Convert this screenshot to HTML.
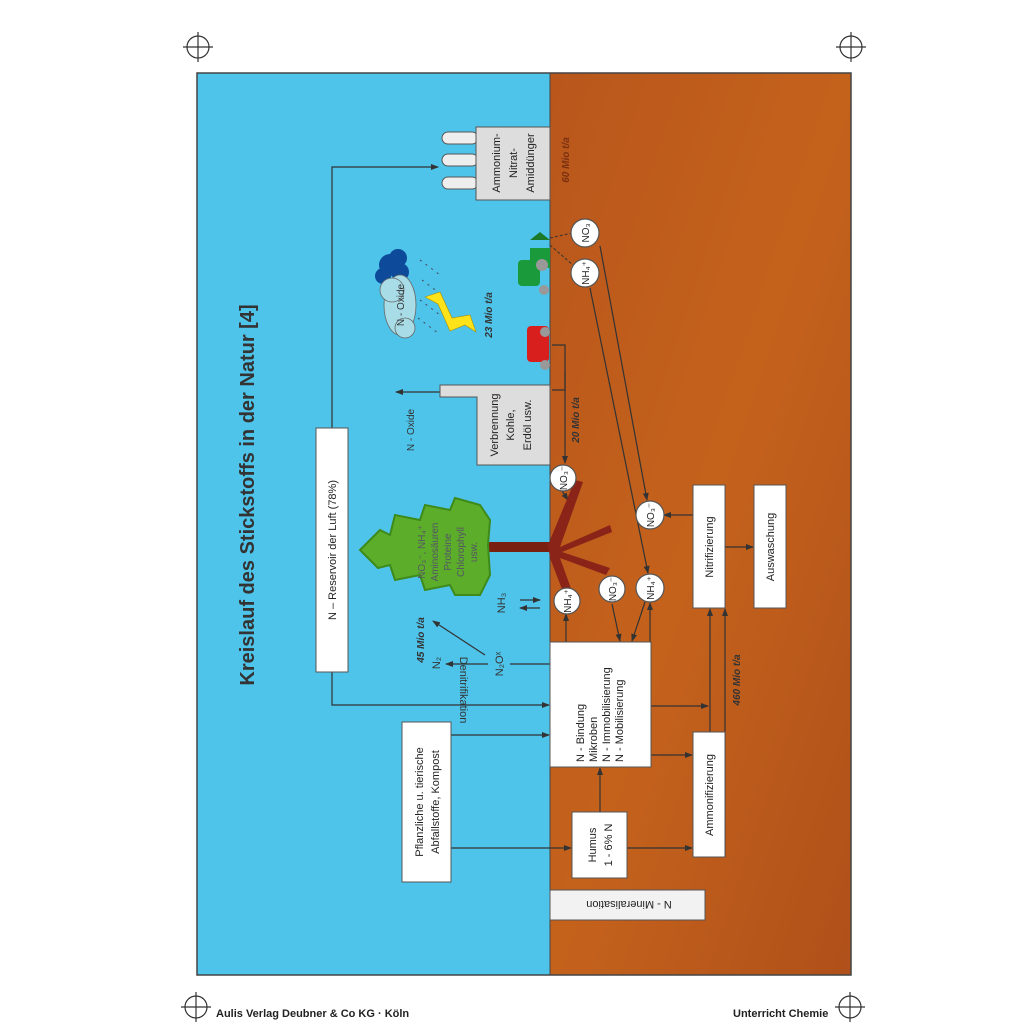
<!DOCTYPE html>
<html><head><meta charset="utf-8"><style>
html,body{margin:0;padding:0;background:#fff}
svg{display:block}
text{font-family:"Liberation Sans",sans-serif}
</style></head><body>
<svg width="1024" height="1024" viewBox="0 0 1024 1024" xmlns="http://www.w3.org/2000/svg">
<defs>
<marker id="a" markerWidth="8" markerHeight="8" refX="7" refY="4" orient="auto" markerUnits="userSpaceOnUse"><path d="M0,1 L8,4 L0,7 z" fill="#333"/></marker>
<linearGradient id="br" x1="0" y1="0" x2="1" y2="1"><stop offset="0" stop-color="#b9561c"/><stop offset="0.5" stop-color="#c4621c"/><stop offset="1" stop-color="#b0501a"/></linearGradient>
</defs>
<rect width="1024" height="1024" fill="#fff"/>
<!-- crosshairs -->
<g stroke="#333" fill="none" stroke-width="1.2">
<circle cx="198" cy="47" r="11"/><line x1="183" y1="47" x2="213" y2="47"/><line x1="198" y1="32" x2="198" y2="62"/>
<circle cx="851" cy="47" r="11"/><line x1="836" y1="47" x2="866" y2="47"/><line x1="851" y1="32" x2="851" y2="62"/>
<circle cx="196" cy="1007" r="11"/><line x1="181" y1="1007" x2="211" y2="1007"/><line x1="196" y1="992" x2="196" y2="1022"/>
<circle cx="850" cy="1007" r="11"/><line x1="835" y1="1007" x2="865" y2="1007"/><line x1="850" y1="992" x2="850" y2="1022"/>
</g>
<text x="216" y="1017" font-size="11" font-weight="bold" fill="#222">Aulis Verlag Deubner &amp; Co KG · Köln</text>
<text x="733" y="1017" font-size="11" font-weight="bold" fill="#222">Unterricht Chemie</text>
<!-- panels -->
<rect x="197" y="73" width="353" height="902" fill="#4ec4ea"/>
<rect x="550" y="73" width="301" height="902" fill="url(#br)"/>
<rect x="197" y="73" width="654" height="902" fill="none" stroke="#444" stroke-width="1.5"/>
<line x1="550" y1="73" x2="550" y2="975" stroke="#444" stroke-width="1"/>
<!-- title -->
<text transform="translate(254,495) rotate(-90)" font-size="20" font-weight="bold" fill="#333" text-anchor="middle">Kreislauf des Stickstoffs in der Natur [4]</text>

<g stroke="#333" stroke-width="1.2" fill="none">
<!-- reservoir lines -->
<polyline points="332,428 332,167 438,167" marker-end="url(#a)"/>
<polyline points="332,672 332,705 549,705" marker-end="url(#a)"/>
<!-- pflanzliche -->
<line x1="451" y1="735" x2="549" y2="735" marker-end="url(#a)"/>
<line x1="451" y1="848" x2="571" y2="848" marker-end="url(#a)"/>
<!-- humus -->
<line x1="600" y1="812" x2="600" y2="768" marker-end="url(#a)"/>
<line x1="627" y1="848" x2="692" y2="848" marker-end="url(#a)"/>
<!-- big box right -->
<line x1="651" y1="706" x2="708" y2="706" marker-end="url(#a)"/>
<line x1="651" y1="755" x2="692" y2="755" marker-end="url(#a)"/>
<line x1="710" y1="732" x2="710" y2="609" marker-end="url(#a)"/>
<line x1="725" y1="857" x2="725" y2="609" marker-end="url(#a)"/>
<!-- nitrif -->
<line x1="693" y1="515" x2="664" y2="515" marker-end="url(#a)"/>
<line x1="725" y1="547" x2="753" y2="547" marker-end="url(#a)"/>
<!-- circles to big box -->
<line x1="566" y1="642" x2="566" y2="614" marker-end="url(#a)"/>
<line x1="612" y1="604" x2="620" y2="641" marker-end="url(#a)"/>
<line x1="645" y1="602" x2="632" y2="641" marker-end="url(#a)"/>
<line x1="650" y1="642" x2="650" y2="603" marker-end="url(#a)"/>
<line x1="566" y1="591" x2="566" y2="578" />
<!-- NO3 top -> NO3 nitrif -->
<line x1="600" y1="246" x2="647" y2="500" marker-end="url(#a)"/>
<line x1="590" y1="288" x2="648" y2="573" marker-end="url(#a)"/>
<!-- 20 Mio -->
<polyline points="552,345 565,345 565,390 552,390"/>
<line x1="565" y1="370" x2="565" y2="463" marker-end="url(#a)"/>
<line x1="562" y1="491" x2="568" y2="500" marker-end="url(#a)"/>
<line x1="476" y1="392" x2="396" y2="392" marker-end="url(#a)"/>
<!-- denitrifikation -->
<line x1="550" y1="664" x2="510" y2="664"/>
<line x1="488" y1="664" x2="446" y2="664" marker-end="url(#a)"/>
<line x1="485" y1="655" x2="433" y2="621" marker-end="url(#a)"/>
<!-- NH3 -->
<line x1="520" y1="600" x2="540" y2="600" marker-end="url(#a)"/>
<line x1="540" y1="608" x2="520" y2="608" marker-end="url(#a)"/>
</g>
<g stroke="#333" stroke-width="1" stroke-dasharray="3,2" fill="none">
<line x1="550" y1="238" x2="572" y2="233"/><line x1="550" y1="245" x2="574" y2="266"/>
</g>

<!-- factory -->
<g fill="#eee" stroke="#555" stroke-width="1">
<rect x="442" y="132" width="36" height="12" rx="6"/>
<rect x="442" y="154" width="36" height="12" rx="6"/>
<rect x="442" y="177" width="36" height="12" rx="6"/>
</g>
<rect x="476" y="127" width="74" height="73" fill="#ddd" stroke="#555"/>
<text transform="translate(500,163) rotate(-90)" font-size="11" fill="#222" text-anchor="middle">Ammonium-</text>
<text transform="translate(517,163) rotate(-90)" font-size="11" fill="#222" text-anchor="middle">Nitrat-</text>
<text transform="translate(534,163) rotate(-90)" font-size="11" fill="#222" text-anchor="middle">Amiddünger</text>
<text transform="translate(569,160) rotate(-90)" font-size="10" font-weight="bold" font-style="italic" fill="#7a3010" text-anchor="middle">60 Mio t/a</text>

<!-- verbrennung -->
<path d="M440,385 L550,385 L550,465 L477,465 L477,397 L440,397 Z" fill="#ddd" stroke="#555"/>
<text transform="translate(498,425) rotate(-90)" font-size="11" fill="#222" text-anchor="middle">Verbrennung</text>
<text transform="translate(514,425) rotate(-90)" font-size="11" fill="#222" text-anchor="middle">Kohle,</text>
<text transform="translate(531,425) rotate(-90)" font-size="11" fill="#222" text-anchor="middle">Erdöl usw.</text>
<text transform="translate(414,430) rotate(-90)" font-size="10" fill="#333" text-anchor="middle">N - Oxide</text>
<text transform="translate(579,420) rotate(-90)" font-size="10" font-weight="bold" font-style="italic" fill="#333" text-anchor="middle">20 Mio t/a</text>

<!-- cloud -->
<g fill="#0d4a9a"><circle cx="390" cy="265" r="11"/><circle cx="398" cy="258" r="9"/><circle cx="383" cy="276" r="8"/><circle cx="400" cy="272" r="9"/></g>
<g fill="#a8dde8" stroke="#666" stroke-width="0.8"><ellipse cx="400" cy="305" rx="16" ry="30"/><circle cx="392" cy="290" r="12"/><circle cx="405" cy="328" r="10"/></g>
<text transform="translate(404,305) rotate(-90)" font-size="10" fill="#333" text-anchor="middle">N - Oxide</text>
<g stroke="#445" stroke-width="1" stroke-dasharray="2,5">
<line x1="420" y1="260" x2="440" y2="275"/><line x1="422" y1="280" x2="442" y2="295"/><line x1="420" y1="300" x2="440" y2="315"/><line x1="418" y1="318" x2="438" y2="333"/>
</g>
<path d="M425,297 L440,292 L452,318 L470,315 L476,332 L465,325 L450,331 L438,304 Z" fill="#ffe31a" stroke="#aa9000" stroke-width="0.6"/>
<text transform="translate(492,315) rotate(-90)" font-size="10" font-weight="bold" font-style="italic" fill="#333" text-anchor="middle">23 Mio t/a</text>

<!-- cars -->
<g><rect x="518" y="260" width="22" height="26" rx="4" fill="#1a9a3a"/><rect x="530" y="248" width="20" height="20" fill="#1a9a3a"/><path d="M530,240 L540,232 L550,240 Z" fill="#1a7a2a"/><circle cx="542" cy="265" r="6" fill="#999"/><circle cx="544" cy="290" r="5" fill="#999"/></g>
<g><rect x="527" y="326" width="22" height="36" rx="4" fill="#d91e1e"/><circle cx="545" cy="332" r="5" fill="#999"/><circle cx="545" cy="365" r="5" fill="#999"/></g>

<!-- tree -->
<rect x="470" y="542" width="80" height="10" fill="#7a2010"/>
<path d="M548,545 L575,480 L583,482 L560,547 L610,525 L612,532 L562,552 L610,568 L606,575 L560,558 L578,608 L570,610 L550,558 Z" fill="#8a2418"/>
<path d="M360,550 L380,530 L390,535 L395,515 L420,520 L425,505 L450,510 L455,498 L480,505 L490,520 L488,545 L490,575 L480,595 L455,595 L450,585 L425,590 L420,575 L395,580 L390,565 L378,568 Z" fill="#5cae2a" stroke="#3e8a1a" stroke-width="2"/>
<text transform="translate(425,552) rotate(-90)" font-size="10" fill="#556" text-anchor="middle">NO₃⁻, NH₄⁺</text>
<text transform="translate(438,552) rotate(-90)" font-size="10" fill="#556" text-anchor="middle">Aminosäuren</text>
<text transform="translate(451,552) rotate(-90)" font-size="10" fill="#556" text-anchor="middle">Proteine</text>
<text transform="translate(464,552) rotate(-90)" font-size="10" fill="#556" text-anchor="middle">Chlorophyll</text>
<text transform="translate(477,552) rotate(-90)" font-size="10" fill="#556" text-anchor="middle">usw.</text>
<text transform="translate(505,603) rotate(-90)" font-size="11" fill="#333" text-anchor="middle">NH₃</text>
<text transform="translate(424,640) rotate(-90)" font-size="10" font-weight="bold" font-style="italic" fill="#333" text-anchor="middle">45 Mio t/a</text>
<text transform="translate(440,663) rotate(-90)" font-size="11" fill="#333" text-anchor="middle">N₂</text>
<text transform="translate(503,664) rotate(-90)" font-size="11" fill="#333" text-anchor="middle">N₂Oˣ</text>
<text transform="translate(460,690) rotate(90)" font-size="11" fill="#333" text-anchor="middle">Denitrifikation</text>

<!-- reservoir box -->
<rect x="316" y="428" width="32" height="244" fill="#fff" stroke="#555"/>
<text transform="translate(336,550) rotate(-90)" font-size="11" fill="#222" text-anchor="middle">N  – Reservoir der Luft (78%)</text>

<!-- circles -->
<g fill="#fff" stroke="#555" stroke-width="1.2">
<circle cx="585" cy="233" r="14"/><circle cx="585" cy="273" r="14"/><circle cx="563" cy="478" r="13"/>
<circle cx="650" cy="515" r="14"/><circle cx="567" cy="601" r="13"/><circle cx="612" cy="589" r="13"/><circle cx="650" cy="588" r="14"/>
</g>
<g font-size="10" fill="#222" text-anchor="middle">
<text transform="translate(589,233) rotate(-90)">NO₃</text>
<text transform="translate(589,273) rotate(-90)">NH₄⁺</text>
<text transform="translate(567,478) rotate(-90)">NO₃⁻</text>
<text transform="translate(654,515) rotate(-90)">NO₃⁻</text>
<text transform="translate(571,601) rotate(-90)">NH₄⁺</text>
<text transform="translate(616,589) rotate(-90)">NO₃⁻</text>
<text transform="translate(654,588) rotate(-90)">NH₄⁺</text>
</g>

<!-- boxes -->
<g fill="#fff" stroke="#555">
<rect x="693" y="485" width="32" height="123"/>
<rect x="754" y="485" width="32" height="123"/>
<rect x="550" y="642" width="101" height="125"/>
<rect x="693" y="732" width="32" height="125"/>
<rect x="572" y="812" width="55" height="66"/>
<rect x="402" y="722" width="49" height="160"/>
<rect x="550" y="890" width="155" height="30" fill="#f2f2f2"/>
</g>
<g font-size="11" fill="#222" text-anchor="middle">
<text transform="translate(713,547) rotate(-90)">Nitrifizierung</text>
<text transform="translate(774,547) rotate(-90)">Auswaschung</text>
<text transform="translate(713,795) rotate(-90)">Ammonifizierung</text>
<text transform="translate(596,845) rotate(-90)">Humus</text>
<text transform="translate(612,845) rotate(-90)">1 - 6% N</text>
<text transform="translate(423,802) rotate(-90)">Pflanzliche u. tierische</text>
<text transform="translate(439,802) rotate(-90)">Abfallstoffe, Kompost</text>
<text transform="translate(629,905) rotate(180)" dy="4">N - Mineralisation</text>
</g>
<g font-size="11" fill="#222">
<text transform="translate(584,762) rotate(-90)">N - Bindung</text>
<text transform="translate(597,762) rotate(-90)">Mikroben</text>
<text transform="translate(610,762) rotate(-90)">N - Immobilisierung</text>
<text transform="translate(623,762) rotate(-90)">N - Mobilisierung</text>
</g>
<text transform="translate(740,680) rotate(-90)" font-size="10" font-weight="bold" font-style="italic" fill="#333" text-anchor="middle">460 Mio t/a</text>
</svg>
</body></html>
